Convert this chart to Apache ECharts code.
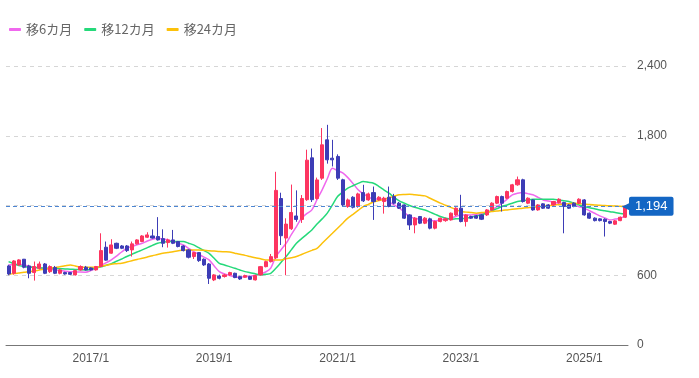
<!DOCTYPE html>
<html><head><meta charset="utf-8">
<script src="https://cdn.jsdelivr.net/npm/echarts@6/dist/echarts.min.js"></script>
<style>html,body{margin:0;padding:0;background:#fff}#c{width:699px;height:378px}</style>
</head><body><div id="c"></div>
<script>
const months = [
'2015/9','2015/10','2015/11','2015/12',
'2016/1','2016/2','2016/3','2016/4','2016/5','2016/6','2016/7','2016/8','2016/9','2016/10','2016/11','2016/12',
'2017/1','2017/2','2017/3','2017/4','2017/5','2017/6','2017/7','2017/8','2017/9','2017/10','2017/11','2017/12',
'2018/1','2018/2','2018/3','2018/4','2018/5','2018/6','2018/7','2018/8','2018/9','2018/10','2018/11','2018/12',
'2019/1','2019/2','2019/3','2019/4','2019/5','2019/6','2019/7','2019/8','2019/9','2019/10','2019/11','2019/12',
'2020/1','2020/2','2020/3','2020/4','2020/5','2020/6','2020/7','2020/8','2020/9','2020/10','2020/11','2020/12',
'2021/1','2021/2','2021/3','2021/4','2021/5','2021/6','2021/7','2021/8','2021/9','2021/10','2021/11','2021/12',
'2022/1','2022/2','2022/3','2022/4','2022/5','2022/6','2022/7','2022/8','2022/9','2022/10','2022/11','2022/12',
'2023/1','2023/2','2023/3','2023/4','2023/5','2023/6','2023/7','2023/8','2023/9','2023/10','2023/11','2023/12',
'2024/1','2024/2','2024/3','2024/4','2024/5','2024/6','2024/7','2024/8','2024/9','2024/10','2024/11','2024/12',
'2025/1','2025/2','2025/3','2025/4','2025/5','2025/6','2025/7','2025/8','2025/9'];

const openP = [680,617,689,738,680,623,660,697,631,666, 617,623,623,603,646,669,663,646,675,841,
 790,875,852,852,818,870,890,927,938,933, 915,881,904,890,852,818,761,795,738,697,
 560,594,589,603,617,588,583,588,560,603, 674,717,750,1260,920,1000,1110,1080,1250,1610,
 1260,1435,1765,1607,1622,1421,1191,1271,1191,1311, 1248,1311,1248,1234,1271,1277,1220,1205,1119,1033,
 1105,1048,1085,1005,1062,1070,1076,1119,1177,1062, 1105,1111,1119,1119,1162,1220,1277,1263,1320,1378,
 1421,1220,1248,1162,1214,1205,1205,1225,1225,1205, 1220,1220,1248,1134,1091,1085,1082,1062,1039,1070, 1099];
const closeP = [611,723,732,669,617,675,697,617,675,617, 646,611,608,640,675,646,646,675,812,730,
 861,832,832,812,870,904,938,947,920,904, 875,904,875,847,812,755,795,726,689,574,
 603,574,603,623,580,568,597,565,597,674, 717,760,1330,940,1040,1140,1080,1260,1590,1250,
 1420,1722,1593,1593,1435,1205,1248,1185,1300,1240, 1300,1234,1271,1263,1191,1220,1177,1091,1033,1091,
 1048,1091,1005,1062,1091,1085,1134,1177,1062,1119, 1091,1091,1082,1162,1220,1277,1220,1320,1378,1421,
 1234,1263,1162,1205,1177,1177,1234,1254,1191,1177, 1191,1254,1119,1091,1070,1070,1062,1048,1068,1099, 1194];
const highP = [690,730,738,740,690,718,718,705,685,680, 655,630,628,648,685,680,668,680,961,890,
 910,880,860,860,890,910,945,970,995,1100, 995,915,990,895,858,825,800,800,745,705,
 610,605,612,630,622,595,605,595,605,680, 725,783,1490,1310,1090,1380,1330,1290,1680,1690,
 1440,1866,1894,1765,1640,1430,1260,1280,1310,1378, 1311,1363,1280,1275,1363,1300,1230,1210,1125,1100,
 1110,1100,1095,1070,1095,1095,1140,1185,1292,1125, 1112,1118,1125,1170,1228,1285,1285,1328,1386,1449,
 1430,1270,1255,1212,1220,1212,1240,1262,1232,1212, 1228,1262,1255,1140,1098,1090,1090,1068,1075,1105, 1200];
const lowP = [600,605,680,660,574,554,650,610,620,610, 608,605,603,598,640,640,640,640,670,725,
 785,825,825,800,761,865,885,920,915,898, 841,838,868,840,805,745,740,715,680,525,
 550,565,580,595,575,560,578,560,555,598, 668,710,740,860,600,990,1060,1050,1240,1230,
 1250,1420,1560,1536,1420,1190,1180,1175,1180,1230, 1240,1076,1240,1130,1185,1210,1170,1085,990,961,
 1040,1040,995,995,1055,1060,1070,1110,1055,1019, 1085,1085,1075,1110,1155,1212,1148,1255,1312,1370,
 1225,1212,1155,1155,1170,1170,1198,1218,961,1170, 1185,1212,1112,1085,1063,1063,933,1040,1032,1065, 1092];

const ma6 = [689,692,695,688,678,669,662,656,652,646, 640,635,631,629,627,626,640,660,685,708,
 732,765,800,832,848,862,875,895,910,918, 912,904,890,875,861,832,804,780,756,732,
 680,631,612,598,588,583,588,592,600,612, 628,662,761,820,875,950,1019,1090,1130,1162,
 1250,1335,1430,1520,1500,1480,1440,1390,1335,1300, 1275,1255,1255,1255,1230,1205,1180,1140,1105,1090,
 1080,1070,1068,1068,1078,1085,1091,1105,1119,1119, 1119,1124,1129,1134,1162,1190,1220,1255,1292,1305,
 1312,1302,1292,1270,1248,1238,1229,1220,1217,1214, 1202,1190,1177,1155,1133,1111,1094,1076,1083,1091, 1111];
const ma12 = [717,700,683,676,670,666,664,662,660,658, 656,654,652,650,648,646,652,660,672,686,
 700,720,740,761,780,800,818,838,857,875, 883,890,891,891,890,876,861,837,813,789,
 746,703,688,674,660,645,631,622,612,603, 608,617,660,710,761,818,875,915,952,990,
 1040,1085,1134,1205,1277,1315,1349,1370,1390,1406, 1400,1392,1365,1335,1306,1270,1240,1220,1200,1185,
 1172,1162,1143,1124,1105,1093,1082,1085,1088,1091, 1100,1110,1119,1137,1155,1173,1191,1205,1220,1234,
 1241,1248,1254,1254,1254,1254,1254,1247,1240,1234, 1220,1205,1191,1181,1172,1162,1155,1147,1140,1132, 1125];
const ma24 = [609,614,620,626,631,637,645,652,660,667, 674,682,689,679,668,668,668,668,677,686,
 695,699,703,714,725,736,746,757,768,778, 789,796,803,811,818,818,818,818,815,811,
 808,804,802,800,790,780,771,761,751,742, 732,732,732,732,742,751,761,779,797,814,
 832,875,918,961,1005,1048,1091,1124,1158,1191, 1210,1230,1242,1254,1267,1280,1292,1295,1297,1292,
 1288,1283,1262,1241,1220,1202,1184,1166,1148,1143, 1139,1134,1139,1144,1148,1153,1157,1162,1167,1172,
 1177,1181,1185,1190,1194,1199,1203,1208,1212,1216, 1220,1216,1212,1208,1205,1202,1200,1197,1195,1193, 1191];

const xTickLabels = ['2017/1','2019/1','2021/1','2023/1','2025/1'];
const seriesNames = ['移6カ月','移12カ月','移24カ月'];

const candles = months.map((m, i) => [openP[i], closeP[i], lowP[i], highP[i]]);
const lastClose = closeP[closeP.length - 1];
const fmt = v => Number(v).toLocaleString('en-US');

const chart = echarts.init(document.getElementById('c'));
chart.setOption({
  animation: false,
  textStyle: {fontFamily: '"Liberation Sans", Arial, sans-serif'},
  legend: {
    left: 4, top: 18, icon: 'roundRect', itemWidth: 12, itemHeight: 3, itemGap: 12,
    data: seriesNames,
    textStyle: {color: '#666', fontSize: 13, fontFamily: '"Noto Sans CJK JP", sans-serif'}
  },
  grid: {left: 6, right: 71, top: 66, bottom: 33},
  xAxis: {
    type: 'category', data: months, boundaryGap: true,
    axisLine: {lineStyle: {color: '#777'}},
    axisTick: {show: false},
    axisLabel: {color: '#555', fontSize: 12, margin: 8, interval: (i, v) => xTickLabels.includes(v)},
    splitLine: {show: false}
  },
  yAxis: {
    type: 'value', position: 'right', min: 0, max: 2400, interval: 600,
    axisLine: {show: false}, axisTick: {show: false},
    axisLabel: {color: '#555', fontSize: 12, margin: 9, formatter: v => fmt(v)},
    splitLine: {lineStyle: {type: [4, 4], color: '#d6d6d6'}}
  },
  series: [
    {
      type: 'candlestick', name: 'price', data: candles, barWidth: '70%', z: 3,
      itemStyle: {color: '#fd3560', color0: '#3d3db6', borderColor: '#fd3560', borderColor0: '#3d3db6', borderWidth: 1},
      markLine: {
        silent: true, symbol: ['none', 'none'], z: 10,
        data: [{yAxis: lastClose}],
        lineStyle: {color: '#4d86d3', type: [4, 3], width: 1},
        label: {
          position: 'end', distance: -6,
          formatter: p => '{a|◀}{b|' + fmt(p.value) + '}',
          rich: {
            a: {color: '#1366c4', fontSize: 13, fontFamily: '"DejaVu Sans"', padding: [0, -3, 0, 0]},
            b: {backgroundColor: '#1366c4', color: '#fff', fontSize: 13, padding: [3, 6, 3, 6], borderRadius: 2}
          }
        }
      }
    },
    {type: 'line', name: seriesNames[0], data: ma6, smooth: 0.3, symbol: 'none', lineStyle: {width: 1.5, color: '#f068ee'}, itemStyle: {color: '#f068ee'}},
    {type: 'line', name: seriesNames[1], data: ma12, smooth: 0.3, symbol: 'none', lineStyle: {width: 1.5, color: '#25d97a'}, itemStyle: {color: '#25d97a'}},
    {type: 'line', name: seriesNames[2], data: ma24, smooth: 0.3, symbol: 'none', lineStyle: {width: 1.5, color: '#fcc10a'}, itemStyle: {color: '#fcc10a'}}
  ]
});
</script>
</body></html>
